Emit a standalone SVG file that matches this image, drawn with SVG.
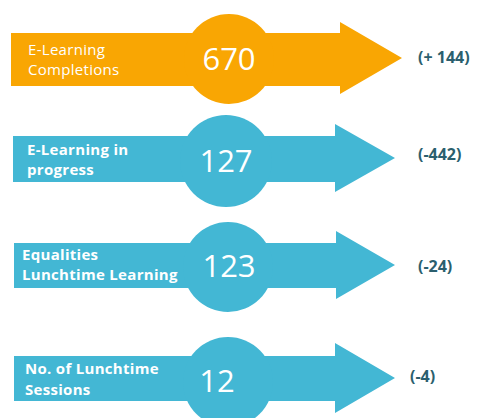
<svg xmlns="http://www.w3.org/2000/svg" width="480" height="418" viewBox="0 0 480 418">
<style>
.orange{fill:#f9a603}
.blue{fill:#43b7d4}
.lbl{font-family:"Open Sans","Liberation Sans",sans-serif;font-size:15px;letter-spacing:0.3px;fill:#ffffff}
.b{font-weight:700}
.num{font-family:"Open Sans","Liberation Sans",sans-serif;font-size:31px;fill:#ffffff;text-anchor:middle;font-weight:400}
.delta{font-family:"Open Sans","Liberation Sans",sans-serif;font-size:16px;font-weight:700;fill:#2b5f6e}
</style>
<rect width="480" height="418" fill="#ffffff"/>
<g id="node-1">
<path class="orange" d="M11,33 H340 V22 L402,58 L340,94 V86 H11 Z"/>
<circle class="orange" cx="229" cy="59" r="45"/>
<text class="lbl" x="28" y="55">E-Learning</text>
<text class="lbl" x="28" y="75">Completions</text>
<text class="num" x="229" y="70">670</text>
<text class="delta" x="418" y="63">(+ 144)</text>
</g>
<g id="node-2">
<path class="blue" d="M13,136 H335 V124 L395,158 L335,192 V182 H13 Z"/>
<circle class="blue" cx="226" cy="161" r="46"/>
<text class="lbl b" x="27" y="155">E-Learning in</text>
<text class="lbl b" x="27" y="175">progress</text>
<text class="num" x="226" y="172">127</text>
<text class="delta" x="418" y="160">(-442)</text>
</g>
<g id="node-3">
<path class="blue" d="M14,243 H336 V231 L395,265 L336,299 V288 H14 Z"/>
<circle class="blue" cx="228" cy="267" r="45"/>
<text class="lbl b" x="22" y="260">Equalities</text>
<text class="lbl b" x="22" y="280">Lunchtime Learning</text>
<text class="num" x="229" y="277">123</text>
<text class="delta" x="418" y="272">(-24)</text>
</g>
<g id="node-4">
<path class="blue" d="M14,356 H335 V343 L395,378 L335,413 V401 H14 Z"/>
<circle class="blue" cx="228" cy="382" r="45"/>
<text class="lbl b" x="25" y="374">No. of Lunchtime</text>
<text class="lbl b" x="25" y="395">Sessions</text>
<text class="num" x="217" y="392">12</text>
<text class="delta" x="410" y="382">(-4)</text>
</g>
<g id="connectors"></g>
</svg>
